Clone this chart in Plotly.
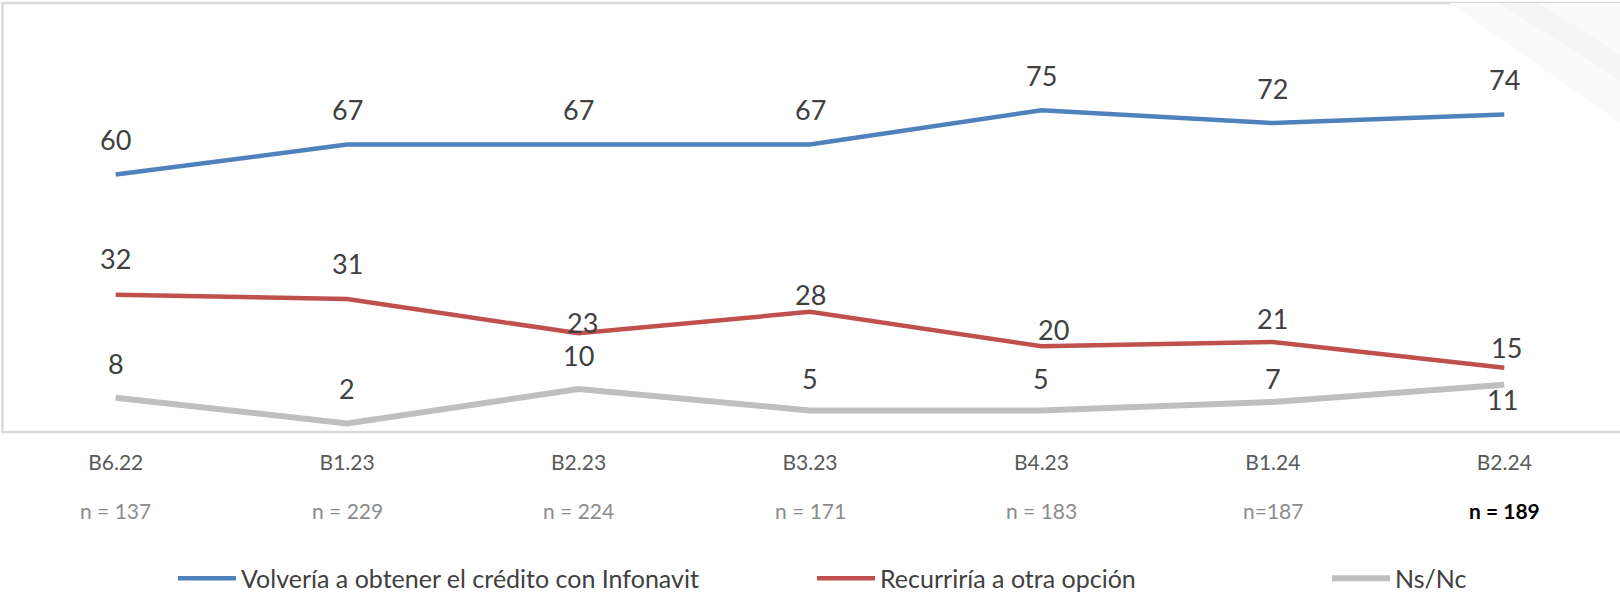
import plotly.graph_objects as go

# data
categories = ["B6.22", "B1.23", "B2.23", "B3.23", "B4.23", "B1.24", "B2.24"]
sample_sizes = ["n = 137", "n = 229", "n = 224", "n = 171", "n = 183", "n=187", "n = 189"]
volveria = [60, 67, 67, 67, 75, 72, 74]
recurriria = [32, 31, 23, 28, 20, 21, 15]
nsnc = [8, 2, 10, 5, 5, 7, 11]

series_names = ["Volvería a obtener el crédito con Infonavit", "Recurriría a otra opción", "Ns/Nc"]

# label placement (pixels above the point), tuned to the reference
label_dy = {
    0: [35, 35, 35, 35, 35, 35, 35],
    1: [36, 36, 11, 17, 17, 23, 20],
    2: [34, 35, 34, 32, 32, 23, -15],
}
label_dx = {
    0: [0, 0, 0, 0, 0, 0, 0],
    1: [0, 0, 4, 0, 12, 0, 2],
    2: [0, 0, 0, 0, 0, 0, -2],
}

FONT = "Lato, 'Open Sans', sans-serif"
colors = ["#4f81bd", "#c0504d", "#bfbfbf"]
widths = [4.5, 4.5, 6]
values = [volveria, recurriria, nsnc]
legend_ids = ["legend", "legend2", "legend3"]

fig = go.Figure()
for i, (name, vals) in enumerate(zip(series_names, values)):
    fig.add_trace(go.Scatter(
        x=categories, y=vals, name=name, mode="lines",
        line=dict(color=colors[i], width=widths[i]),
        legend=legend_ids[i],
        hoverinfo="x+y",
    ))
    for j, (c, v) in enumerate(zip(categories, vals)):
        fig.add_annotation(
            x=c, y=v, text=str(v), showarrow=False,
            yshift=label_dy[i][j], xshift=label_dx[i][j],
            font=dict(family=FONT, size=27, color="#404040"),
        )

# sample size row under the category labels
for j, (c, n) in enumerate(zip(categories, sample_sizes)):
    last = j == len(categories) - 1
    fig.add_annotation(
        x=c, y=-0.182, yref="paper", yanchor="middle", showarrow=False,
        text=f"<b>{n}</b>" if last else n,
        font=dict(family=FONT, size=21, color="#000000" if last else "#8c8c8c"),
    )

# plot frame (no right edge visible in the reference)
fig.add_shape(type="path", xref="paper", yref="paper",
              path="M 1.01 0 L 0.0015 0 L 0.0015 1 L 1.01 1",
              line=dict(color="#d9d9d9", width=2.5), layer="below")

# faint watermark bands, top right
fig.add_shape(type="path", xref="paper", yref="paper",
              path="M 0.895 1 L 1 1 L 1 0.72 Z",
              fillcolor="#fafafa", line=dict(width=0), layer="below")
fig.add_shape(type="path", xref="paper", yref="paper",
              path="M 0.925 1 L 0.95 1 L 1 0.88 L 1 0.82 Z",
              fillcolor="#f5f5f5", line=dict(width=0), layer="below")

legend_text_x = [241, 880, 1395]
leg = {}
for k, lid in enumerate(legend_ids):
    leg[lid] = dict(
        x=(legend_text_x[k] - 68) / 1620, y=-0.395, xanchor="left", yanchor="bottom",
        orientation="h", bgcolor="rgba(0,0,0,0)", itemwidth=58,
        font=dict(family=FONT, size=25, color="#404040"),
    )

fig.update_layout(
    width=1620, height=595,
    margin=dict(l=0, r=0, t=3, b=163, autoexpand=False),
    paper_bgcolor="white", plot_bgcolor="white",
    showlegend=True,
    **leg,
)

fig.update_xaxes(
    type="category", range=[-0.5, 6.5], showgrid=False, showline=False,
    ticks="", ticklabelstandoff=16,
    tickfont=dict(family=FONT, size=21, color="#595959"),
    zeroline=False,
)
fig.update_yaxes(range=[0, 100], visible=False, showgrid=False, zeroline=False)

fig.write_html("out.html", config={"displayModeBar": False},
               post_script="document.body.style.margin='0';")
